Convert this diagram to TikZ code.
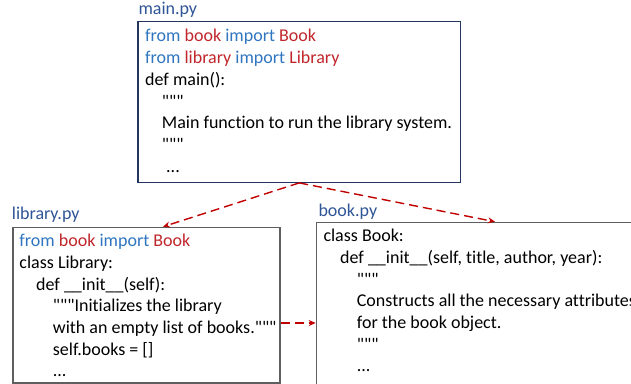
\documentclass[tikz,border=0pt]{standalone}
\usepackage{fontspec}
\setmainfont{Carlito}[Ligatures={CommonOff,TeXOff}]
\usetikzlibrary{arrows.meta}
\definecolor{kwblue}{HTML}{2F75C0}
\definecolor{kwred}{HTML}{C0262B}
\definecolor{lblblue}{HTML}{2F5597}
\definecolor{navy}{HTML}{24365F}
\definecolor{boxgray}{HTML}{5F5F5F}
\definecolor{arrred}{HTML}{C00000}
\newcommand{\kb}[1]{\textcolor{kwblue}{#1}}
\newcommand{\kr}[1]{\textcolor{kwred}{#1}}
\tikzset{
  codeline/.style={anchor=base west, inner sep=0pt, font=\fontsize{18}{21}\selectfont},
  filelabel/.style={anchor=base west, inner sep=0pt, text=lblblue, font=\fontsize{18}{21}\selectfont},
  filebox/.style={draw=boxgray, line width=1.2pt, inner sep=0pt, anchor=north west},
  deparrow/.style={draw=arrred, line width=1.4pt, dash pattern=on 9pt off 5pt, -{Stealth[length=7pt,width=6pt]}},
}
\begin{document}
\begin{tikzpicture}[x=1pt,y=-1pt]
\useasboundingbox (0,0) rectangle (631,383);
\clip (0,0) rectangle (631,383);
% boxes
\node[filebox, draw=navy, minimum width=322.7pt, minimum height=160.7pt] (main) at (137.3,21) {};
\node[filebox, minimum width=267pt, minimum height=155.6pt] (lib) at (12.3,226.7) {};
\node[filebox, minimum width=330pt, minimum height=175pt] (book) at (315.7,221.7) {};
% labels
\node[filelabel] (mainlbl) at (138.3,14) {main.py};
\node[filelabel] (liblbl) at (11.7,219.3) {library.py};
\node[filelabel] (booklbl) at (318.3,216) {book.py};
% main.py code
\node[codeline] (m1) at (145,41.7) {\kb{from} \kr{book} \kb{import} \kr{Book}};
\node[codeline] (m2) at (145,63.5) {\kb{from} \kr{library} \kb{import} \kr{Library}};
\node[codeline] (m3) at (145,85.3) {def main():};
\node[codeline] (m4) at (161.7,107.1) {"""};
\node[codeline] (m5) at (161.7,128.9) {Main function to run the library system.};
\node[codeline] (m6) at (161.7,150.7) {"""};
\node[codeline] (m7) at (166,172.5) {...};
% library.py code
\node[codeline] (l1) at (19.3,246.7) {\kb{from} \kr{book} \kb{import} \kr{Book}};
\node[codeline] (l2) at (19.3,268.4) {class Library:};
\node[codeline] (l3) at (36,290.1) {def \_\_init\_\_(self):};
\node[codeline] (l4) at (52.7,311.8) {"""Initializes the library};
\node[codeline] (l5) at (52.7,333.5) {with an empty list of books."""};
\node[codeline] (l6) at (52.7,355.2) {self.books = []};
\node[codeline] (l7) at (52.7,376.9) {...};
% book.py code
\node[codeline] (b1) at (323.3,241.7) {class Book:};
\node[codeline] (b2) at (340,263.4) {def \_\_init\_\_(self, title, author, year):};
\node[codeline] (b3) at (356.7,285.1) {"""};
\node[codeline] (b4) at (356.7,306.8) {Constructs all the necessary attributes};
\node[codeline] (b5) at (356.7,328.5) {for the book object.};
\node[codeline] (b6) at (356.7,350.2) {"""};
\node[codeline] (b7) at (356.7,371.9) {...};
% arrows
\draw[deparrow] (main.south) -- ([xshift=150.7pt]lib.north west);
\draw[deparrow] (main.south) -- ([xshift=179.3pt]book.north west);
\draw[deparrow] ([yshift=-96.3pt]lib.north east) -- ([yshift=-96.3pt]lib.north east -| book.west);
\end{tikzpicture}
\end{document}
